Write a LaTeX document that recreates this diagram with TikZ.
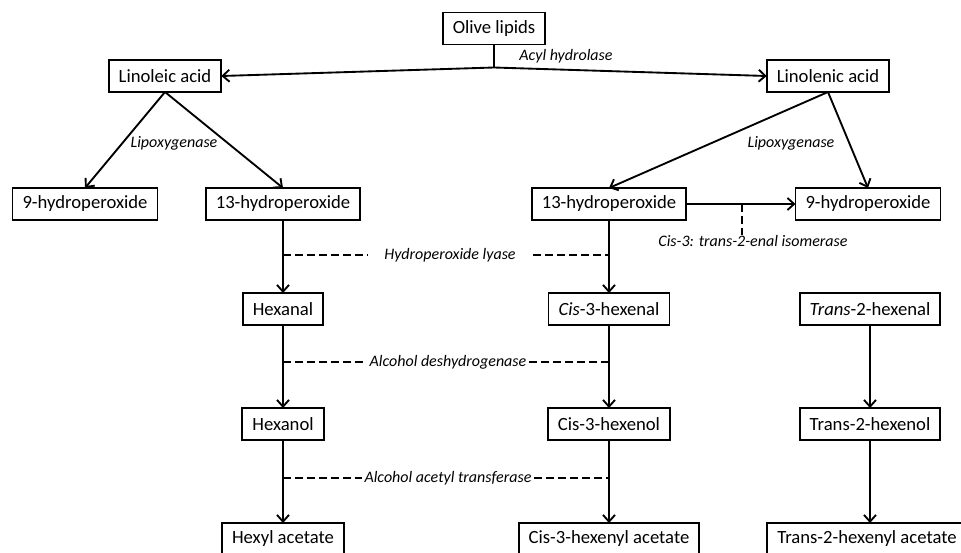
\documentclass[tikz,border=0pt]{standalone}
\usepackage{fontspec}
\setmainfont{Carlito}
\usetikzlibrary{arrows.meta}
\begin{document}
\begin{tikzpicture}[x=0.75pt,y=-0.75pt,inner sep=0pt,outer sep=0pt,line width=1.4pt,
>={Straight Barb[length=5pt,width=9pt]},
compound/.style={draw,rectangle,inner xsep=7.5pt,minimum height=24pt,font=\fontsize{14}{16}\selectfont},
enzyme/.style={inner xsep=2pt,font=\fontsize{12}{14}\selectfont\itshape},
enzlink/.style={dash pattern=on 6pt off 3pt}]
\useasboundingbox (0,0) rectangle (961,553);
% lipids and acids
\draw (494,28.5) node[compound] (olive) {Olive lipids};
\draw (165,76) node[compound] (linoleic) {Linoleic acid};
\draw (828,76) node[compound] (linolenic) {Linolenic acid};
\draw (olive.south) -- ++(0,23) coordinate (split);
\draw[->] (split) -- (linoleic.east);
\draw[->] (split) -- (linolenic.west);
\draw (566,56) node[enzyme] (acyl) {Acyl hydrolase};
% hydroperoxides
\draw (85,204) node[compound] (hpnineL) {9-hydroperoxide};
\draw (283,204) node[compound] (hpthirteenL) {13-hydroperoxide};
\draw (609,204) node[compound] (hpthirteenR) {13-hydroperoxide};
\draw (868,204) node[compound] (hpnineR) {9-hydroperoxide};
\draw[->] (linoleic.south) -- (hpnineL.north);
\draw[->] (linoleic.south) -- (hpthirteenL.north);
\draw[->] (linolenic.south) -- (hpthirteenR.north);
\draw[->] (linolenic.south) -- (hpnineR.north);
\draw (174,143) node[enzyme] (lipoxL) {Lipoxygenase};
\draw (791,143) node[enzyme] (lipoxR) {Lipoxygenase};
\draw[->] (hpthirteenR.east) -- coordinate[pos=0.51] (iso) (hpnineR.west);
\draw (753,241) node[enzyme] (isomerase) {Cis-3: trans-2-enal isomerase};
\draw[enzlink] (iso) -- (iso |- isomerase.north);
% aldehydes
\draw (283,309) node[compound] (hexanal) {Hexanal};
\draw (609,309) node[compound] (cisal) {\textit{Cis}-3-hexenal};
\draw (870,309) node[compound] (transal) {\textit{Trans}-2-hexenal};
\draw[->] (hpthirteenL.south) -- (hexanal.north);
\draw[->] (hpthirteenR.south) -- (cisal.north);
\draw (450,255) node[enzyme,inner xsep=13pt] (lyase) {Hydroperoxide lyase};
\draw[enzlink] (hexanal |- lyase) -- (lyase);
\draw[enzlink] (lyase) -- (cisal |- lyase);
% alcohols
\draw (283,424) node[compound] (hexanol) {Hexanol};
\draw (609,424) node[compound] (cisol) {Cis-3-hexenol};
\draw (870,424) node[compound] (transol) {Trans-2-hexenol};
\draw[->] (hexanal.south) -- (hexanol.north);
\draw[->] (cisal.south) -- (cisol.north);
\draw[->] (transal.south) -- (transol.north);
\draw (448,362) node[enzyme] (dehydro) {Alcohol deshydrogenase};
\draw[enzlink] (hexanal |- dehydro) -- (dehydro);
\draw[enzlink] (dehydro) -- (cisal |- dehydro);
% acetates
\draw (283,539) node[compound] (hexylac) {Hexyl acetate};
\draw (609,539) node[compound] (cisac) {Cis-3-hexenyl acetate};
\draw (867,539) node[compound] (transac) {Trans-2-hexenyl acetate};
\draw[->] (hexanol.south) -- (hexylac.north);
\draw[->] (cisol.south) -- (cisac.north);
\draw[->] (transol.south) -- (transol.south |- transac.north);
\draw (448,478) node[enzyme] (acetyl) {Alcohol acetyl transferase};
\draw[enzlink] (hexanol |- acetyl) -- (acetyl);
\draw[enzlink] (acetyl) -- (cisol |- acetyl);
\end{tikzpicture}
\end{document}
